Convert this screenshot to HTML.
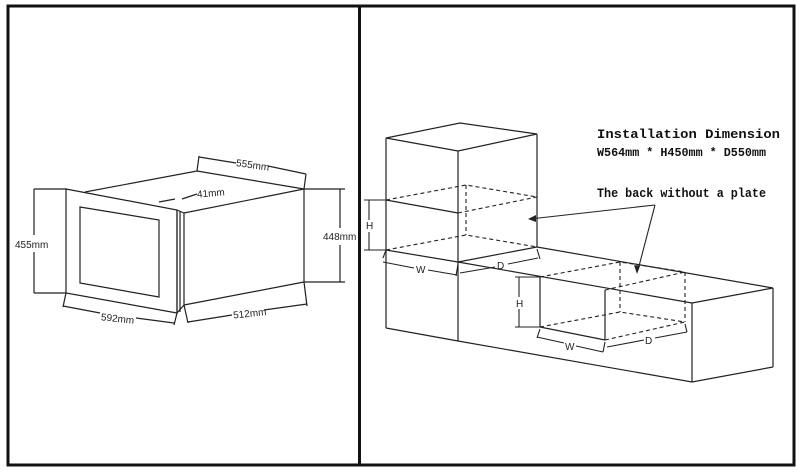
<!DOCTYPE html>
<html><head><meta charset="utf-8"><style>
html,body{margin:0;padding:0;background:#fff;}
svg{display:block;}
</style></head><body>
<svg width="800" height="472" viewBox="0 0 800 472" xmlns="http://www.w3.org/2000/svg">
<rect x="0" y="0" width="800" height="472" fill="#fff"/>
<g stroke="#111" stroke-width="3" fill="none">
<rect x="8" y="6" width="786" height="459"/>
<line x1="359.5" y1="6" x2="359.5" y2="465"/>
</g>
<g stroke="#222" stroke-width="1.2" fill="none">
<polygon points="66,189 177,210 177,313 66,293"/>
<polygon points="80,207 159,220 159,297 80,283"/>
<polyline points="85,192 197,171 304,189"/>
<line x1="177" y1="210" x2="177" y2="313"/>
<line x1="180" y1="211" x2="180" y2="312"/>
<line x1="184" y1="213" x2="184" y2="305"/>
<line x1="184" y1="213" x2="304" y2="189"/>
<line x1="304" y1="189" x2="304" y2="282"/>
<line x1="184" y1="305" x2="304" y2="282"/>
<line x1="177" y1="313" x2="184" y2="305"/>
<line x1="177" y1="210" x2="184" y2="213"/>
<line x1="34" y1="189" x2="66" y2="189"/>
<line x1="34" y1="293" x2="66" y2="293"/>
<line x1="34" y1="189" x2="34" y2="235"/>
<line x1="34" y1="252" x2="34" y2="293"/>
<line x1="304" y1="189" x2="345" y2="189"/>
<line x1="304" y1="282" x2="345" y2="282"/>
<line x1="340" y1="189" x2="340" y2="228"/>
<line x1="340" y1="245" x2="340" y2="282"/>
<line x1="197" y1="171" x2="199" y2="156"/>
<line x1="304" y1="189" x2="306" y2="174"/>
<line x1="199" y1="157" x2="236" y2="163"/>
<line x1="268" y1="166" x2="306" y2="174"/>
<line x1="66" y1="293" x2="63" y2="307"/>
<line x1="177" y1="313" x2="174" y2="325"/>
<line x1="63" y1="306" x2="100" y2="313"/>
<line x1="136" y1="318" x2="174" y2="323"/>
<line x1="184" y1="305" x2="188" y2="323"/>
<line x1="304" y1="282" x2="307" y2="306"/>
<line x1="188" y1="322" x2="232" y2="315"/>
<line x1="264" y1="310" x2="307" y2="304"/>
<line x1="159" y1="202" x2="175" y2="199"/>
<line x1="182" y1="199" x2="197" y2="194"/>
</g>
<g font-family="Liberation Sans, sans-serif" font-size="10" fill="#222">
<text x="15" y="248">455mm</text>
<text x="323" y="240">448mm</text>
<text x="236" y="168" transform="rotate(8 250 165)">555mm</text>
<text x="101" y="322" transform="rotate(6 118 318)">592mm</text>
<text x="233" y="317" transform="rotate(-6 248 313)">512mm</text>
<text x="197" y="197" transform="rotate(-5 205 194)">41mm</text>
</g>
<g stroke="#222" stroke-width="1.2" fill="none">
<polygon points="386,138 460,123 537,134 458,151"/>
<line x1="386" y1="138" x2="386" y2="328"/>
<line x1="458" y1="151" x2="458" y2="341"/>
<line x1="537" y1="134" x2="537" y2="247"/>
<line x1="386" y1="328" x2="458" y2="341"/>
<line x1="386" y1="200" x2="458" y2="213"/>
<line x1="386" y1="250" x2="458" y2="262"/>
<line x1="458" y1="262" x2="692" y2="303"/>
<line x1="458" y1="262" x2="537" y2="247"/>
<line x1="537" y1="247" x2="773" y2="288"/>
<line x1="692" y1="303" x2="773" y2="288"/>
<line x1="692" y1="303" x2="692" y2="382"/>
<line x1="773" y1="288" x2="773" y2="367"/>
<line x1="692" y1="382" x2="773" y2="367"/>
<line x1="458" y1="341" x2="692" y2="382"/>
<line x1="540" y1="277" x2="540" y2="327"/>
<line x1="605" y1="290" x2="605" y2="340"/>
<line x1="540" y1="327" x2="605" y2="340"/>
</g>
<g stroke="#222" stroke-width="1.1" fill="none" stroke-dasharray="4,3">
<polyline points="386,200 466,185 537,197"/>
<line x1="458" y1="213" x2="537" y2="197"/>
<line x1="466" y1="185" x2="466" y2="235"/>
<polyline points="386,250 466,235 537,247"/>
<polyline points="540,277 620,262 685,272"/>
<line x1="605" y1="290" x2="685" y2="272"/>
<line x1="620" y1="262" x2="620" y2="312"/>
<line x1="685" y1="272" x2="685" y2="322"/>
<polyline points="540,327 620,312 685,322"/>
<line x1="605" y1="340" x2="685" y2="322"/>
</g>
<g stroke="#222" stroke-width="1.1" fill="none">
<line x1="364" y1="200" x2="386" y2="200"/>
<line x1="364" y1="250" x2="386" y2="250"/>
<line x1="369" y1="200" x2="369" y2="220"/>
<line x1="369" y1="232" x2="369" y2="250"/>
<line x1="383" y1="258" x2="386" y2="250"/>
<line x1="383" y1="262" x2="414" y2="268"/>
<line x1="428" y1="270" x2="457" y2="275"/>
<line x1="458" y1="264" x2="456" y2="276"/>
<line x1="460" y1="273" x2="495" y2="267"/>
<line x1="508" y1="264" x2="538" y2="258"/>
<line x1="537" y1="249" x2="540" y2="259"/>
<line x1="515" y1="277" x2="540" y2="277"/>
<line x1="515" y1="327" x2="540" y2="327"/>
<line x1="519" y1="277" x2="519" y2="297"/>
<line x1="519" y1="309" x2="519" y2="327"/>
<line x1="540" y1="329" x2="537" y2="338"/>
<line x1="537" y1="337" x2="564" y2="343"/>
<line x1="576" y1="346" x2="603" y2="352"/>
<line x1="605" y1="342" x2="603" y2="352"/>
<line x1="607" y1="347" x2="644" y2="340"/>
<line x1="655" y1="338" x2="687" y2="332"/>
<line x1="685" y1="324" x2="687" y2="332"/>
<line x1="655" y1="205" x2="530" y2="219"/>
<line x1="655" y1="205" x2="638" y2="270"/>
</g>
<g fill="#222">
<polygon points="528,219 536,215 536,222"/>
<polygon points="637,274 634,265 640,266"/>
</g>
<g font-family="Liberation Sans, sans-serif" font-size="10" fill="#222">
<text x="366" y="229">H</text>
<text x="416" y="273">W</text>
<text x="497" y="269">D</text>
<text x="516" y="307">H</text>
<text x="565" y="350">W</text>
<text x="645" y="344">D</text>
</g>
<g font-family="Liberation Mono, monospace" font-weight="bold" fill="#111">
<text x="597" y="138" font-size="13" textLength="183" lengthAdjust="spacingAndGlyphs">Installation Dimension</text>
<text x="597" y="156" font-size="12" textLength="169" lengthAdjust="spacingAndGlyphs">W564mm * H450mm * D550mm</text>
<text x="597" y="197" font-size="13" textLength="169" lengthAdjust="spacingAndGlyphs">The back without a plate</text>
</g>
</svg>
</body></html>
